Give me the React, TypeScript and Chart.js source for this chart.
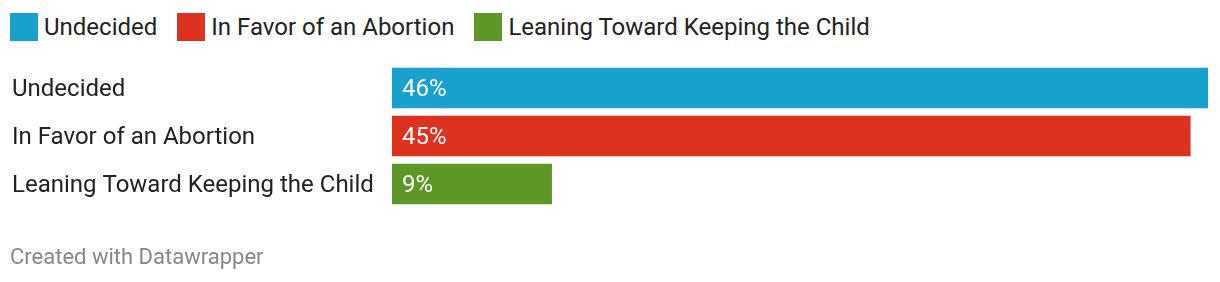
import React, { useEffect, useRef } from "react";
import { Chart, registerables } from "chart.js";

Chart.register(...registerables);

const categories: string[] = ["Undecided", "In Favor of an Abortion", "Leaning Toward Keeping the Child"];
const values: number[] = [46, 45, 9];
const colors: string[] = ["#18a1cd", "#dd3220", "#5f9628"];
const valueLabels: string[] = ["46%", "45%", "9%"];
const footerText = "Created with Datawrapper";

const FONT = "Roboto, 'Noto Sans', sans-serif";

const valueLabelPlugin = {
  id: "valueLabels",
  afterDatasetsDraw(chart: any) {
    const ctx = chart.ctx;
    const meta = chart.getDatasetMeta(0);
    ctx.save();
    ctx.fillStyle = "#ffffff";
    ctx.font = `24px ${FONT}`;
    ctx.textAlign = "left";
    ctx.textBaseline = "middle";
    meta.data.forEach((bar: any, i: number) => {
      ctx.fillText(valueLabels[i], bar.base + 10, bar.y + 2);
    });
    ctx.restore();
  },
};

export default function App() {
  const canvasRef = useRef<HTMLCanvasElement | null>(null);

  useEffect(() => {
    if (!canvasRef.current) return;
    const chart = new Chart(canvasRef.current, {
      type: "bar",
      data: {
        labels: categories,
        datasets: [
          {
            data: values,
            backgroundColor: colors,
            borderWidth: 0,
            barThickness: 40,
          },
        ],
      },
      options: {
        indexAxis: "y",
        animation: false,
        responsive: false,
        maintainAspectRatio: false,
        layout: { padding: { left: 12, right: 12, top: 64, bottom: 74 } },
        plugins: {
          legend: { display: false },
          tooltip: { enabled: false },
          title: { display: false },
        },
        scales: {
          x: { display: false, min: 0, max: 46 },
          y: {
            grid: { display: false },
            border: { display: false },
            ticks: {
              crossAlign: "far",
              color: "#222222",
              font: { family: FONT, size: 24, lineHeight: "4px" },
              padding: 0,
              callback(_v: any, i: number) {
                return ["", categories[i]];
              },
            },
            afterFit(scale: any) {
              scale.width = 380;
            },
          },
        },
      },
      plugins: [valueLabelPlugin],
    } as any);
    return () => chart.destroy();
  }, []);

  return (
    <div style={{ position: "fixed", left: 0, top: 0, width: 1220, height: 282, background: "#fff", fontFamily: FONT }}>
      <div style={{ position: "absolute", left: 10, top: 13, display: "flex", alignItems: "center", height: 28 }}>
        {categories.map((c, i) => (
          <div key={c} style={{ display: "flex", alignItems: "center", marginRight: i < categories.length - 1 ? 20 : 0 }}>
            <span style={{ display: "inline-block", width: 28, height: 28, background: colors[i], marginRight: 6 }} />
            <span style={{ fontSize: 24, color: "#222", lineHeight: "28px", whiteSpace: "nowrap" }}>{c}</span>
          </div>
        ))}
      </div>
      <canvas ref={canvasRef} width={1220} height={282} style={{ position: "absolute", left: 0, top: 0 }} />
      <div style={{ position: "absolute", left: 10, top: 243, fontSize: 22, color: "#888", lineHeight: "28px", whiteSpace: "nowrap" }}>
        {footerText}
      </div>
    </div>
  );
}
